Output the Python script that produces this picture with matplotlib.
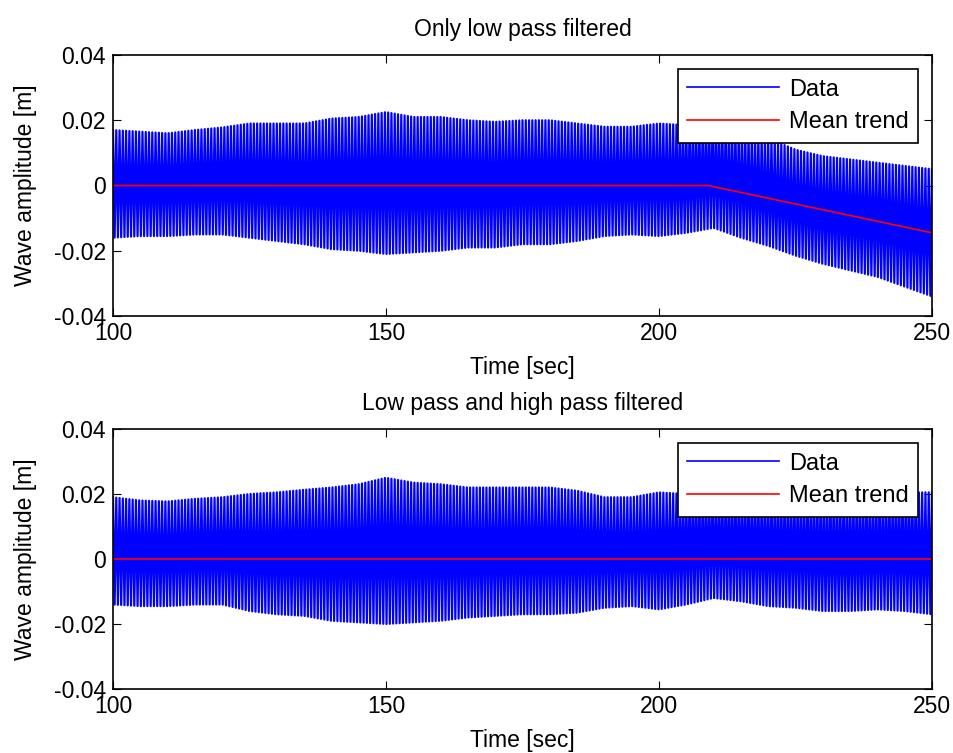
import numpy as np
import matplotlib
matplotlib.use("Agg")
import matplotlib.pyplot as plt

# envelope of the wave, every 5 sec
t_env = [100, 105, 110, 115, 120, 125, 130, 135, 140, 145, 150, 155, 160, 165, 170, 175,
         180, 185, 190, 195, 200, 205, 210, 215, 220, 225, 230, 235, 240, 245, 250]

upper_lp = [0.017, 0.0165, 0.016, 0.017, 0.0178, 0.019, 0.019, 0.019, 0.0205, 0.021, 0.0225, 0.021,
            0.021, 0.020, 0.0195, 0.020, 0.020, 0.019, 0.018, 0.018, 0.019, 0.0185, 0.019, 0.017,
            0.0145, 0.011, 0.009, 0.008, 0.007, 0.006, 0.005]
lower_lp = [-0.016, -0.0155, -0.0155, -0.015, -0.015, -0.016, -0.017, -0.018, -0.0195, -0.020, -0.021, -0.0205,
            -0.020, -0.019, -0.019, -0.018, -0.018, -0.017, -0.0155, -0.015, -0.0155, -0.0145, -0.013, -0.016,
            -0.0185, -0.0215, -0.024, -0.026, -0.028, -0.031, -0.034]

upper_hp = [0.019, 0.018, 0.0177, 0.0185, 0.019, 0.020, 0.0205, 0.0213, 0.022, 0.023, 0.025, 0.0235,
            0.023, 0.022, 0.022, 0.022, 0.022, 0.021, 0.019, 0.019, 0.0205, 0.020, 0.020, 0.020,
            0.020, 0.020, 0.020, 0.020, 0.020, 0.0205, 0.0205]
lower_hp = [-0.014, -0.0145, -0.0145, -0.014, -0.014, -0.016, -0.017, -0.0175, -0.019, -0.0195, -0.020, -0.0195,
            -0.019, -0.018, -0.0175, -0.017, -0.017, -0.0165, -0.015, -0.0145, -0.0155, -0.014, -0.012, -0.013,
            -0.0145, -0.015, -0.016, -0.016, -0.0155, -0.016, -0.017]

# mean trend knots
trend_t_lp = [100, 209, 250]
trend_lp = [0.0, 0.0, -0.0145]
trend_t_hp = [100, 250]
trend_hp = [0.0, 0.0]

titles = ["Only low pass filtered", "Low pass and high pass filtered"]
yticks = [-0.04, -0.02, 0, 0.02, 0.04]
ytick_labels = ["-0.04", "-0.02", "0", "0.02", "0.04"]
xticks = [100, 150, 200, 250]

wave_period = 0.6

plt.rcParams['font.family'] = ['Liberation Sans', 'DejaVu Sans']
FS = 16.5


def zigzag(upper, lower):
    tk = np.arange(100, 250 + 1e-9, wave_period / 2)
    up = np.interp(tk, t_env, upper)
    lo = np.interp(tk, t_env, lower)
    yk = np.where(np.arange(len(tk)) % 2 == 0, up, lo)
    return tk, yk


fig = plt.figure(figsize=(9.54, 7.53), dpi=100)
ax1 = fig.add_axes([113 / 954, 1 - 316 / 753, 819 / 954, 261 / 753])
ax2 = fig.add_axes([113 / 954, 1 - 689 / 753, 819 / 954, 260 / 753])

panels = [(ax1, upper_lp, lower_lp, trend_t_lp, trend_lp, 14),
          (ax2, upper_hp, lower_hp, trend_t_hp, trend_hp, 14)]

for i, (ax, up, lo, tt, tr, tpad) in enumerate(panels):
    tk, yk = zigzag(up, lo)
    ax.plot(tk, yk, color="#0000ff", lw=1.6, label="Data")
    ax.plot(tt, tr, color="#ff0000", lw=1.2, label="Mean trend")
    ax.set_xlim(100, 250)
    ax.set_ylim(-0.04, 0.04)
    ax.set_xticks(xticks)
    ax.set_xticklabels([str(x) for x in xticks], fontsize=FS)
    ax.set_yticks(yticks)
    ax.set_yticklabels(ytick_labels, fontsize=FS)
    ax.tick_params(direction="in", top=True, right=True, length=6)
    ax.tick_params(axis="x", pad=4)
    ax.tick_params(axis="y", pad=5)
    ax.set_xlabel("Time [sec]", fontsize=FS, labelpad=8)
    ax.set_ylabel("Wave amplitude [m]", fontsize=FS, labelpad=12)
    ax.set_title(titles[i], fontsize=FS, pad=tpad)
    for s in ax.spines.values():
        s.set_linewidth(1.2)
    leg = ax.legend(loc="upper right", fontsize=17, fancybox=False, framealpha=1,
                    edgecolor="black", handlelength=3.9, handletextpad=0.4,
                    labelspacing=0.45, borderpad=0.4, borderaxespad=0.6)
    leg.get_frame().set_linewidth(1.2)
    leg.get_lines()[0].set_linewidth(1.2)

fig.savefig("out.png", dpi=100)
